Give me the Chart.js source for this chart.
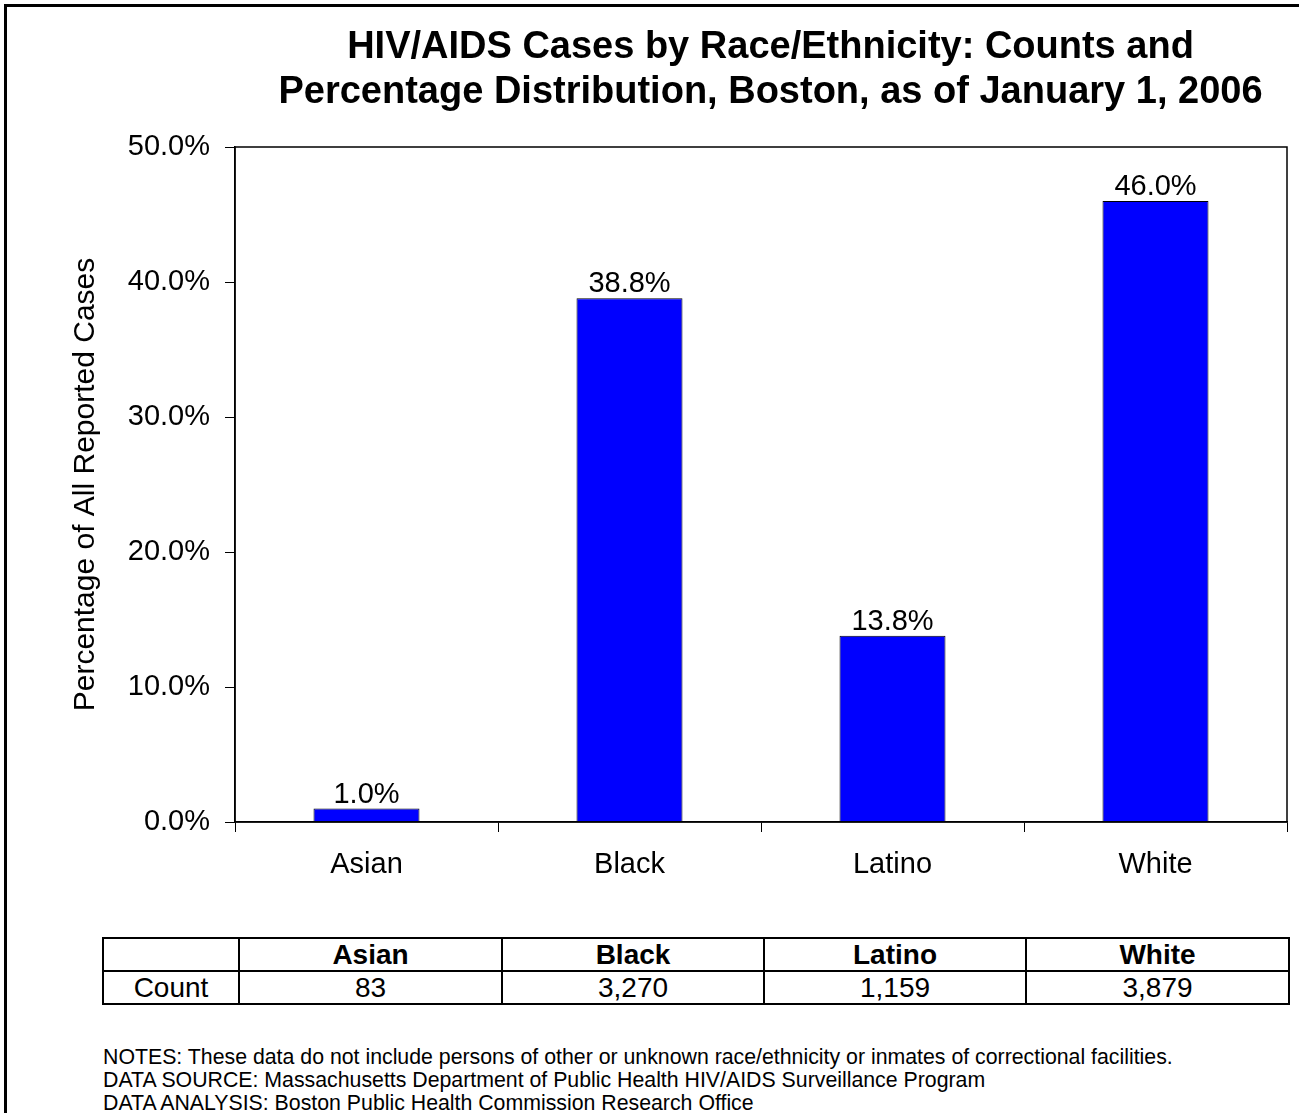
<!DOCTYPE html>
<html>
<head>
<meta charset="utf-8">
<script src="https://cdn.jsdelivr.net/npm/chart.js@4.4.1/dist/chart.umd.min.js"></script>
<style>
    html, body { margin: 0; padding: 0; background: #fff; overflow: hidden; }
    body { width: 1299px; height: 1113px; position: relative; font-family: "Liberation Sans", Arial, sans-serif; color: #000; }
    .frame { position: absolute; left: 4px; top: 4px; width: 1400px; height: 1200px; border: 3px solid #000; box-sizing: border-box; }
    #chart { position: absolute; left: 0; top: 0; }
    table.counts { position: absolute; left: 102px; top: 937px; border-collapse: collapse; font-size: 28px; }
    table.counts td { border: 2px solid #000; height: 31px; padding: 0; text-align: center; line-height: 31px; }
    table.counts tr.head td { font-weight: bold; }
    .notes { position: absolute; left: 103px; top: 1046px; font-size: 21.3px; line-height: 23px; white-space: nowrap; }
</style>
</head>
<body>
<div class="frame"></div>
<canvas id="chart" width="1299" height="900"></canvas>
<table class="counts" id="counts"></table>
<div class="notes">
    NOTES: These data do not include persons of other or unknown race/ethnicity or inmates of correctional facilities.<br>
    DATA SOURCE: Massachusetts Department of Public Health HIV/AIDS Surveillance Program<br>
    DATA ANALYSIS: Boston Public Health Commission Research Office
</div>
<script>
// --- data ---
const categories = ['Asian', 'Black', 'Latino', 'White'];
const percentValues = [1.0, 38.8, 13.8, 46.0];
const caseCounts = ['83', '3,270', '1,159', '3,879'];
const yTicks = [0, 10, 20, 30, 40, 50];

const FONT = '"Liberation Sans", Arial, sans-serif';

// count table under the chart
const table = document.getElementById('counts');
const colWidths = [134, 261, 260, 260, 261];
let headRow = '<tr class="head"><td style="width:' + colWidths[0] + 'px"></td>';
categories.forEach((c, i) => { headRow += '<td style="width:' + colWidths[i + 1] + 'px">' + c + '</td>'; });
headRow += '</tr>';
let countRow = '<tr><td>Count</td>';
caseCounts.forEach(n => { countRow += '<td>' + n + '</td>'; });
countRow += '</tr>';
table.innerHTML = headRow + countRow;

// value labels above bars
const barLabels = {
    id: 'barLabels',
    afterDatasetsDraw(chart) {
        const ctx = chart.ctx;
        const meta = chart.getDatasetMeta(0);
        ctx.save();
        ctx.font = '29px ' + FONT;
        ctx.fillStyle = '#000';
        ctx.textAlign = 'center';
        ctx.textBaseline = 'alphabetic';
        meta.data.forEach((bar, i) => {
            ctx.fillText(percentValues[i].toFixed(1) + '%', bar.x, bar.y - 6);
        });
        ctx.restore();
    }
};

// box around the plot area
const plotFrame = {
    id: 'plotFrame',
    afterDraw(chart) {
        const a = chart.chartArea;
        const ctx = chart.ctx;
        ctx.save();
        ctx.strokeStyle = '#000';
        ctx.lineWidth = 1.5;
        ctx.strokeRect(a.left, a.top, a.right - a.left, a.bottom - a.top);
        ctx.restore();
    }
};

new Chart(document.getElementById('chart'), {
    type: 'bar',
    data: {
        labels: categories,
        datasets: [{
            data: percentValues,
            backgroundColor: '#0000ff',
            borderColor: '#000',
            borderWidth: 1,
            categoryPercentage: 1,
            barPercentage: 0.403
        }]
    },
    options: {
        responsive: false,
        animation: false,
        layout: { padding: { left: 0, right: 12, top: 0, bottom: 0 } },
        plugins: {
            legend: { display: false },
            tooltip: { enabled: false },
            title: {
                display: true,
                fullSize: false,
                // en space nudges the centred lines a little to the right, as in the original
                text: ['\u2002HIV/AIDS Cases by Race/Ethnicity: Counts and', '\u2002Percentage Distribution, Boston, as of January 1, 2006'],
                color: '#000',
                font: { family: FONT, size: 38, weight: 'bold', lineHeight: 45 / 38 },
                padding: { top: 25.5, bottom: 31.5 }
            }
        },
        scales: {
            x: {
                afterFit: (s) => { s.height = 78; },
                grid: { offset: true, drawOnChartArea: false, drawTicks: true, tickLength: 10, color: '#000', lineWidth: 1 },
                border: { display: true, color: '#000', width: 1.5 },
                ticks: { color: '#000', font: { family: FONT, size: 29 }, padding: 16 }
            },
            y: {
                min: 0,
                max: 50,
                afterFit: (s) => { s.width = 235; },
                afterBuildTicks: (s) => { s.ticks = yTicks.map(v => ({ value: v })); },
                grid: { drawOnChartArea: false, drawTicks: true, tickLength: 10, color: '#000', lineWidth: 1 },
                border: { display: true, color: '#000', width: 1.5 },
                ticks: {
                    color: '#000',
                    font: { family: FONT, size: 29 },
                    padding: 15,
                    callback: (v) => Number(v).toFixed(1) + '%'
                },
                title: {
                    display: true,
                    text: 'Percentage of All Reported Cases',
                    color: '#000',
                    font: { family: FONT, size: 30 },
                    padding: { top: 68, bottom: 0 }
                }
            }
        }
    },
    plugins: [barLabels, plotFrame]
});
</script>
</body>
</html>
